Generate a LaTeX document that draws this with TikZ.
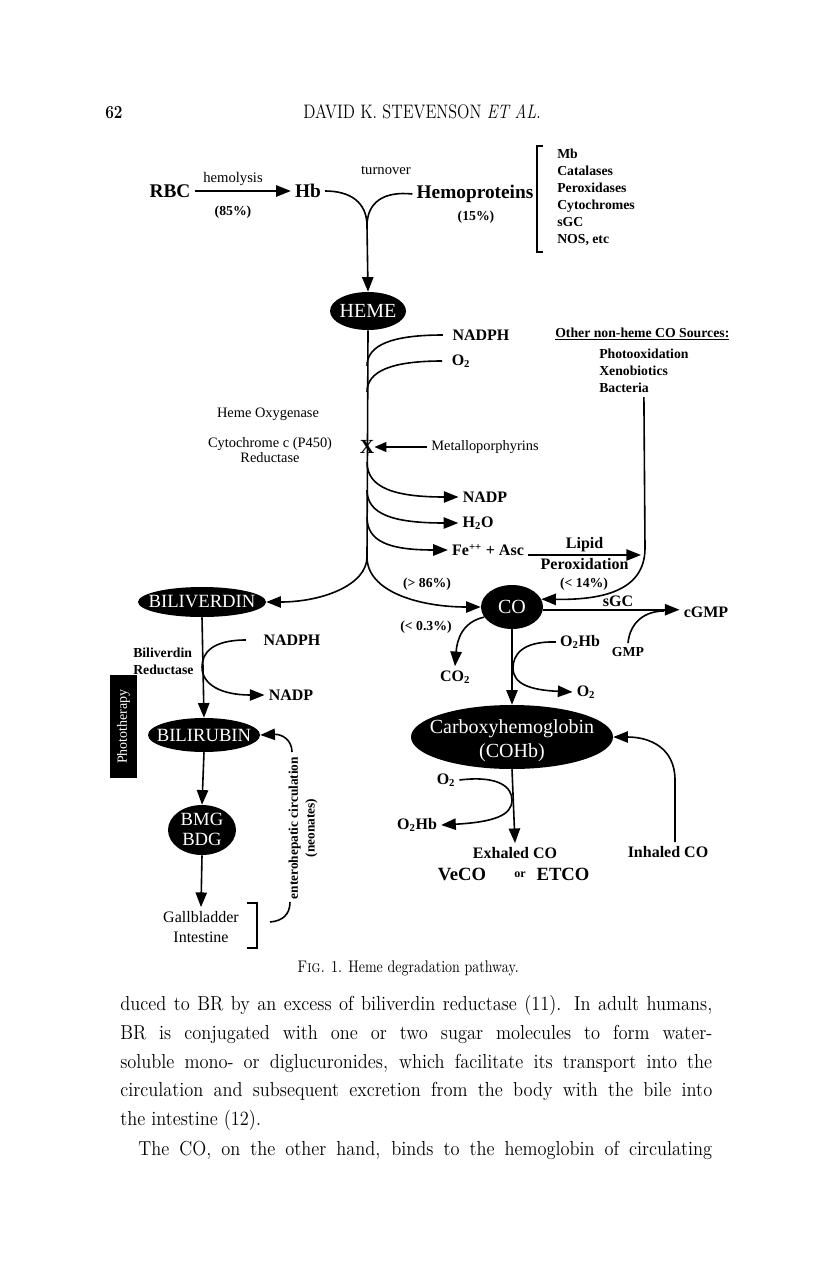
\documentclass[tikz,border=0pt]{standalone}
\usepackage{fontspec}
\newfontfamily\tms{Liberation Serif}
\usetikzlibrary{arrows.meta,shapes.geometric}
\newcommand\bone[1]{\makebox[0pt]{#1}}
\newcommand\btwo[2]{\makebox[0pt]{\raisebox{#1}[0pt][0pt]{\begin{tabular}{@{}c@{}}#2\end{tabular}}}}
\begin{document}
\begin{tikzpicture}[x=0.75pt,y=-0.75pt,
  big/.style={inner sep=3pt, font=\tms\bfseries\fontsize{14.5}{16}\selectfont},
  lab/.style={inner sep=3pt, font=\tms\bfseries\fontsize{12}{14}\selectfont},
  smb/.style={inner sep=3pt, font=\tms\bfseries\fontsize{10.3}{12.75}\selectfont},
  reg/.style={inner sep=3pt, font=\tms\fontsize{10.8}{11.25}\selectfont},
  blob/.style={ellipse, fill=black, text=white, inner sep=0pt, font=\tms\fontsize{15}{18}\selectfont},
  con/.style={draw, line width=1.2pt},
  arr/.style={con, -{Triangle[length=11pt,width=8.5pt]}},
  body/.style={inner sep=0pt, anchor=base west, font=\fontsize{13.8}{16}\selectfont},
  brk/.style={draw, line width=1pt}
]
\fill[white] (0,0) rectangle (816,1267);
\useasboundingbox (0,0) rectangle (816,1267);

% header
\node[body, font=\bfseries\fontsize{11.5}{14}\selectfont] (pg) at (105,118) {\scalebox{1}[1.2]{62}};
\node[body, font=\fontsize{12.2}{14}\selectfont] (hdr) at (303,118) {\scalebox{1}[1.2]{DAVID K. STEVENSON \textit{ET AL}.}};

% top row
\node[big] (rbc) at (170,191) {RBC};
\node[reg, font=\tms\fontsize{11}{12}\selectfont] (hemol) at (233,179) {hemolysis};
\node[smb] (p85) at (233,212) {(85\%)};
\node[big] (hb) at (308,191) {Hb};
\draw[arr] (rbc.east) -- (hb.west);
\node[reg, font=\tms\fontsize{11}{12}\selectfont] (turn) at (386,170) {turnover};
\node[big] (hp) at (475,194) {Hemoproteins};
\node[smb] (p15) at (476,217) {(15\%)};
\node[smb, align=left, anchor=west] (list) at (553,197) {Mb\\Catalases\\Peroxidases\\Cytochromes\\sGC\\NOS, etc};
\draw[brk] (543,146) -- (537,146) -- (537,252) -- (543,252);

\node[blob, minimum width=57pt, minimum height=28.5pt] (heme) at (368,311) {\bone{HEME}};
\coordinate (merge) at (367,226);
\draw[con] (hb.east) .. controls (350,191) and (367,202) .. (merge);
\draw[con] (hp.west) .. controls (384,191) and (367,202) .. (merge);
\draw[arr] (merge) -- (heme.north);

% heme oxygenase reaction
\coordinate (split) at (367,557);
\draw[con] (heme.south) -- (split);
\node[lab] (nadph1) at (481,335) {NADPH};
\node[lab] (o2a) at (461,361) {O\textsubscript{2}};
\coordinate (j1) at (367,366);
\coordinate (j2) at (367,392);
\draw[con, shorten <=4pt] (nadph1.west) .. controls (392,335) and (367,345) .. (j1);
\draw[con, shorten <=4pt] (o2a.west) .. controls (392,361) and (367,371) .. (j2);

\node[reg] (ho) at (268,414) {Heme Oxygenase};
\node[reg, align=center] (cyt) at (270,450) {Cytochrome c (P450)\\Reductase};
\node[inner sep=0pt, font=\tms\bfseries\fontsize{15}{15}\selectfont] (xm) at (367,447) {X};
\node[reg] (metal) at (485,447) {Metalloporphyrins};
\draw[arr, -{Triangle[length=9pt,width=7.5pt]}] (metal.west) -- (xm.east);

\node[lab] (nadp1) at (485,497) {NADP};
\node[lab] (h2o) at (478,523) {H\textsubscript{2}O};
\node[lab] (fe) at (488,550) {Fe\textsuperscript{++} + Asc};
\coordinate (j3) at (367,462);
\coordinate (j4) at (367,490);
\coordinate (j5) at (367,517);
\draw[arr] (j3) .. controls (367,488) and (395,497) .. (nadp1.west);
\draw[arr] (j4) .. controls (367,515) and (395,523) .. (h2o.west);
\draw[arr] (j5) .. controls (367,542) and (390,550) .. (fe.west);

\coordinate (lipE) at (641,555);
\draw[arr] (fe.east |- lipE) -- node[lab, above, inner sep=2pt] (lipid) {Lipid} node[lab, below, inner sep=2pt] (perox) {Peroxidation} (lipE);
\node[smb] (p14) at (584,584) {(< 14\%)};

\node[smb, anchor=west] (src) at (551,334) {\underline{Other non-heme CO Sources:}};
\node[smb, align=left, anchor=west] (srcl) at (595,371) {Photooxidation\\Xenobiotics\\Bacteria};

% CO
\node[blob, minimum width=46.5pt, minimum height=33pt] (co) at (512,607) {\bone{CO}};
\coordinate (bend) at (645,548);
\draw[arr] (srcl.south) -- (bend) .. controls (645,592) and (600,600) .. (co.15);
\draw[arr] (split) .. controls (367,592) and (420,607) .. (co.west);
\node[smb] (p86) at (427,584) {(> 86\%)};
\node[lab] (cgmp) at (706,612) {cGMP};
\draw[arr] (co.-5) -- node[lab, above, inner sep=2pt, pos=0.55] (sgc) {sGC} (cgmp.west |- co.-5);
\node[smb] (gmp) at (628,652) {GMP};
\coordinate (gj) at (664,611);
\draw[con] (gmp.north) .. controls (630,622) and (645,611) .. (gj);

\node[lab] (co2) at (455,677) {CO\textsubscript{2}};
\node[smb] (p03) at (426,627) {(< 0.3\%)};
\draw[arr] (co.200) .. controls (462,622) and (457,640) .. (co2.north);

% COHb
\node[blob, minimum width=151.5pt, minimum height=48pt] (cohb) at (512,737) {\btwo{-6pt}{Carboxyhemoglobin\\(COHb)}};
\draw[arr] (co.south) -- (cohb.north);
\node[lab] (o2hb1) at (580,642) {O\textsubscript{2}Hb};
\node[lab] (o2b) at (586,692) {O\textsubscript{2}};
\coordinate (k1) at (513,668);
\draw[con] (o2hb1.west) .. controls (522,641) and (513,655) .. (k1);
\draw[arr] (k1) .. controls (513,684) and (530,690) .. (o2b.west);

\node[lab] (inh) at (668,852) {Inhaled CO};
\coordinate (ib) at (675,780);
\draw[arr] (inh.north -| ib) -- (ib) .. controls (675,748) and (650,737) .. (cohb.east);

\node[lab] (exh) at (515,853) {Exhaled CO};
\draw[arr] (cohb.south) -- (exh.north);
\node[big, font=\tms\bfseries\fontsize{14}{16}\selectfont] (veco) at (462,874) {VeCO};
\node[inner sep=1pt, font=\tms\bfseries\fontsize{9}{10}\selectfont] (or) at (520,875) {or};
\node[big, font=\tms\bfseries\fontsize{14}{16}\selectfont] (etco) at (563,874) {ETCO};

\node[lab] (o2c) at (446,780) {O\textsubscript{2}};
\node[lab] (o2hb2) at (417,825) {O\textsubscript{2}Hb};
\coordinate (k2) at (512,800);
\draw[con] (o2c.east) .. controls (500,775) and (512,788) .. (k2);
\draw[arr] (k2) .. controls (512,815) and (495,822) .. (o2hb2.east);

% bilirubin branch
\node[blob, minimum width=96pt, minimum height=22.5pt, font=\tms\fontsize{14}{16}\selectfont] (biliv) at (202,602) {\bone{BILIVERDIN}};
\draw[arr] (split) .. controls (367,585) and (322,602) .. (biliv.east);
\node[smb, align=left, anchor=west] (bvr) at (129,661) {Biliverdin\\Reductase};
\node[lab] (nadph2) at (292,640) {NADPH};
\node[lab] (nadp2) at (291,695) {NADP};
\coordinate (k3) at (202,667);
\draw[con, shorten <=10pt] (nadph2.west) .. controls (212,640) and (202,653) .. (k3);
\draw[arr] (k3) .. controls (202,685) and (222,695) .. (nadp2.west);

\node[blob, minimum width=84pt, minimum height=25.5pt, font=\tms\fontsize{14}{16}\selectfont] (bilir) at (204,735) {\bone{BILIRUBIN}};
\draw[arr] (biliv.south) -- (bilir.north);

\node[rectangle, fill=black, text=white, rotate=90, minimum width=77pt, minimum height=20pt, inner sep=0pt, font=\tms\fontsize{10.5}{12}\selectfont] (photo) at (123.5,726.5) {Phototherapy};

\node[blob, minimum width=51pt, minimum height=37.5pt, font=\tms\fontsize{14}{15}\selectfont] (bmg) at (202,830) {\btwo{-5pt}{BMG\\BDG}};
\draw[arr] (bilir.south) -- (bmg.north);
\node[reg, align=center, font=\tms\fontsize{12}{15}\selectfont] (gall) at (201,927) {Gallbladder\\Intestine};
\draw[arr] (bmg.south) -- (gall.north);
\draw[brk] (247,903) -- (257,903) -- (257,948) -- (247,948);

\node[smb, rotate=90, align=center, font=\tms\bfseries\fontsize{10}{12.5}\selectfont] (ent) at (303,828) {enterohepatic circulation\\(neonates)};
\coordinate (e1) at (292,752);
\draw[arr] (e1) .. controls (292,740) and (282,734) .. (bilir.east);
\coordinate (e2) at (290,902);
\coordinate (e3) at (270,922);
\draw[con] (e2) .. controls (290,915) and (282,921) .. (e3);

% caption
\node[inner sep=0pt, font=\fontsize{10.5}{12}\selectfont] (cap) at (408,968) {\scalebox{1}[1.2]{\textsc{Fig.} 1. Heme degradation pathway.}};

% body text
\node[body] (l1) at (120,1010) {\scalebox{1}[1.1]{\makebox[444pt][s]{duced to BR by an excess of biliverdin reductase (11). In adult humans,}}};
\node[body] (l2) at (120,1039) {\scalebox{1}[1.1]{\makebox[444pt][s]{BR is conjugated with one or two sugar molecules to form water-}}};
\node[body] (l3) at (120,1068) {\scalebox{1}[1.1]{\makebox[444pt][s]{soluble mono- or diglucuronides, which facilitate its transport into the}}};
\node[body] (l4) at (120,1096) {\scalebox{1}[1.1]{\makebox[444pt][s]{circulation and subsequent excretion from the body with the bile into}}};
\node[body] (l5) at (120,1125) {\scalebox{1}[1.1]{the intestine (12).}};
\node[body] (l6) at (138,1155) {\scalebox{1}[1.1]{\makebox[430.5pt][s]{The CO, on the other hand, binds to the hemoglobin of circulating}}};
\end{tikzpicture}
\end{document}
